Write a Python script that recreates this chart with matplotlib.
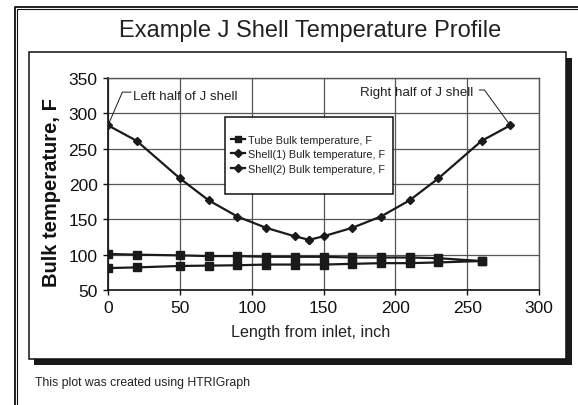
import matplotlib
matplotlib.use("Agg")
import matplotlib.pyplot as plt
from matplotlib.patches import Rectangle
from matplotlib.lines import Line2D

plt.rcParams['font.family'] = ['Liberation Sans', 'DejaVu Sans']

# ---- data ----
tube_x_out = [0, 20, 50, 70, 90, 110, 130, 150, 170, 190, 210, 230, 260]
tube_t_out = [81, 82, 84, 84.5, 85, 86, 86, 86, 87, 88, 88, 89, 91]
tube_x_back = [260, 230, 210, 190, 170, 150, 130, 110, 90, 70, 50, 20, 0]
tube_t_back = [91, 95, 96, 96, 96, 97, 97, 97, 98, 98, 99, 100, 101]

shell1_x = [0, 20, 50, 70, 90, 110, 130, 140]
shell1_t = [283, 261, 208, 177, 154, 138, 126, 121]
shell2_x = [140, 150, 170, 190, 210, 230, 260, 280]
shell2_t = [121, 126, 138, 154, 177, 208, 261, 283]

series_labels = ["Tube Bulk temperature, F",
                 "Shell(1) Bulk temperature, F",
                 "Shell(2) Bulk temperature, F"]
x_ticks = [0, 50, 100, 150, 200, 250, 300]
y_ticks = [50, 100, 150, 200, 250, 300, 350]

title = "Example J Shell Temperature Profile"
xlabel = "Length from inlet, inch"
ylabel = "Bulk temperature, F"
footer = "This plot was created using HTRIGraph"
ann_left = "Left half of J shell"
ann_right = "Right half of J shell"

W, H = 578, 406
fig = plt.figure(figsize=(W / 100, H / 100), dpi=100)
fig.patch.set_facecolor("white")

def fx(px):
    return px / W

def fy(py):
    return 1 - py / H

# outer double frame (top and left)
for lw, off in [(1.3, 7.5), (0.8, 10.0)]:
    xo = off + 7
    fig.add_artist(Line2D([fx(xo), fx(xo), fx(W)], [fy(H), fy(off), fy(off)],
                          transform=fig.transFigure, color="#111111", lw=lw))

# chart box shadow + box
fig.add_artist(Rectangle((fx(34), fy(366)), fx(572) - fx(34), fy(59) - fy(366),
                         transform=fig.transFigure, facecolor="#1a1a1a",
                         edgecolor="none", zorder=0))
fig.add_artist(Rectangle((fx(29), fy(360)), fx(566) - fx(29), fy(53) - fy(360),
                         transform=fig.transFigure, facecolor="white",
                         edgecolor="#111111", lw=1.1, zorder=0.5))

fig.text(fx(310), fy(31), title, ha="center", va="center", fontsize=17, color="#222222")
fig.text(fx(35), fy(383), footer, ha="left", va="center", fontsize=8.8, color="#222222")

ax = fig.add_axes([fx(108), fy(291), fx(539) - fx(108), fy(79) - fy(291)])
ax.set_facecolor("none")
ax.set_zorder(2)

lc = "#1a1a1a"
ax.plot(tube_x_out + tube_x_back, tube_t_out + tube_t_back, color=lc, lw=1.6,
        marker="s", markersize=5.2, label=series_labels[0], zorder=3)
ax.plot(shell1_x, shell1_t, color=lc, lw=1.6, marker="D", markersize=4.3,
        label=series_labels[1], zorder=3)
ax.plot(shell2_x, shell2_t, color=lc, lw=1.6, marker="D", markersize=4.3,
        label=series_labels[2], zorder=3)

ax.set_xlim(0, 300)
ax.set_ylim(50, 350)
ax.set_xticks(x_ticks)
ax.set_yticks(y_ticks)
ax.grid(True, color="#555555", lw=0.9)
ax.set_axisbelow(True)
ax.tick_params(direction="out", length=3.5, width=1, labelsize=12.5,
               colors="#111111", pad=4)
for s in ["top", "right"]:
    ax.spines[s].set_color("#555555")
    ax.spines[s].set_linewidth(1.0)
for s in ["left", "bottom"]:
    ax.spines[s].set_color("#111111")
    ax.spines[s].set_linewidth(1.2)

ax.set_xlabel(xlabel, fontsize=11.6, color="#222222")
ax.xaxis.set_label_coords((311 - 108) / 431, -(333 - 291) / 212, transform=ax.transAxes)
ax.xaxis.label.set_va("center")
ax.set_ylabel(ylabel, fontsize=14.5, fontweight="bold", color="#111111")
ax.yaxis.set_label_coords(-(108 - 52) / 431, (291 - 193) / 212, transform=ax.transAxes)
ax.yaxis.label.set_va("center")

# legend frame + legend
ax.add_patch(Rectangle((fx(225), fy(195)), fx(393) - fx(225), fy(118) - fy(195),
                       transform=fig.transFigure, facecolor="white",
                       edgecolor="#111111", lw=1.1, zorder=4.5, clip_on=False))
leg = ax.legend(loc="upper left", bbox_to_anchor=(fx(223), fy(128)),
                bbox_transform=fig.transFigure, frameon=False, fontsize=7.8,
                handlelength=1.3, handletextpad=0.35, labelspacing=0.42,
                borderpad=0.2, markerscale=0.9)
leg.set_zorder(5)
for t in leg.get_texts():
    t.set_color("#222222")

# annotations (leader lines)
ann_left_pts_x = [0, 10, 16]
ann_left_pts_y = [283, 330, 330]
ann_right_pts_x = [258.5, 262, 280]
ann_right_pts_y = [333, 333, 283]
ax.plot(ann_left_pts_x, ann_left_pts_y, color=lc, lw=0.7, zorder=4)
ax.plot(ann_right_pts_x, ann_right_pts_y, color=lc, lw=0.7, zorder=4)
ax.text(17.5, 324, ann_left, ha="left", va="center", fontsize=9.6, color="#222222")
ax.text(254.5, 329.5, ann_right, ha="right", va="center", fontsize=9.6, color="#222222")

fig.savefig("out.png", dpi=100, facecolor="white")
